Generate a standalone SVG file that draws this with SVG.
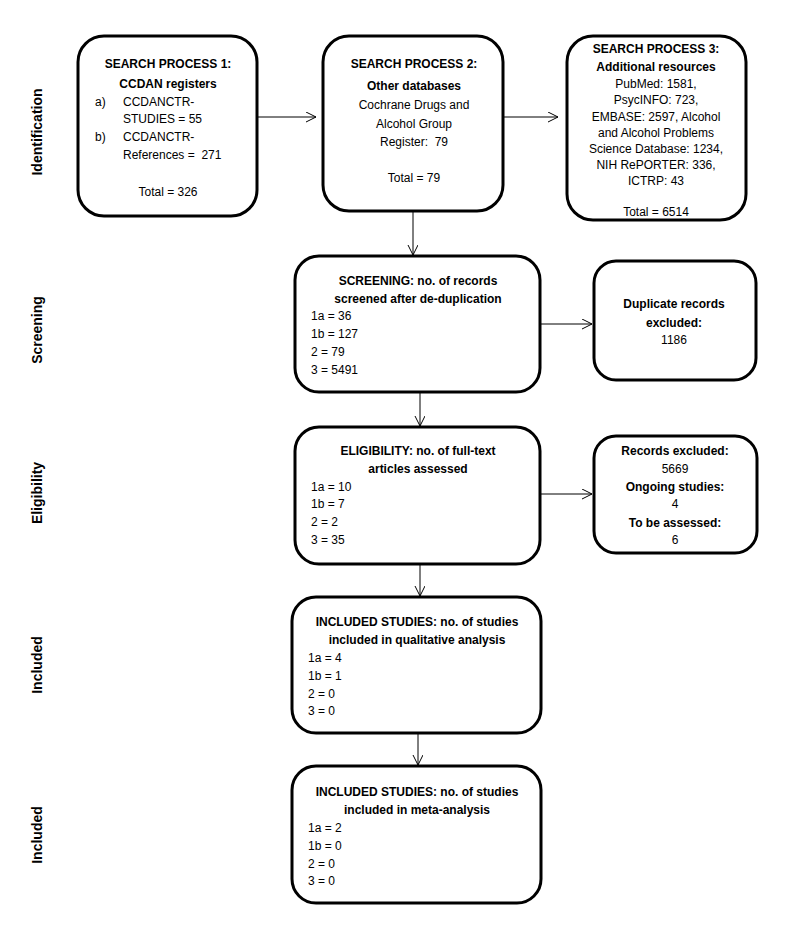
<svg xmlns="http://www.w3.org/2000/svg" width="794" height="930" viewBox="0 0 794 930">
<defs>
<marker id="arr" markerWidth="12" markerHeight="12" refX="10" refY="5" orient="auto" markerUnits="userSpaceOnUse">
<polyline points="0,0 10,5 0,10" fill="none" stroke="#000" stroke-width="1"/>
</marker>
</defs>
<style>
.box{fill:#fff;stroke:#000;stroke-width:3}
text{font-family:"Liberation Sans",Arial,sans-serif;font-size:12px;fill:#000}
.b{font-weight:bold}
.c{text-anchor:middle}
.side{font-weight:bold;font-size:14px;text-anchor:middle}
.con{stroke:#000;stroke-width:1;fill:none;marker-end:url(#arr)}
</style>
<rect width="794" height="930" fill="#fff"/>
<g id="side-labels">
<text class="side" transform="translate(42,132) rotate(-90)">Identification</text>
<text class="side" transform="translate(42,330) rotate(-90)">Screening</text>
<text class="side" transform="translate(42,493) rotate(-90)">Eligibility</text>
<text class="side" transform="translate(42,665) rotate(-90)">Included</text>
<text class="side" transform="translate(42,835) rotate(-90)">Included</text>
</g>
<g id="connectors">
<line class="con" x1="257" y1="117" x2="316" y2="117"/>
<line class="con" x1="503" y1="117" x2="558" y2="117"/>
<line class="con" x1="413" y1="211" x2="413" y2="255"/>
<line class="con" x1="540" y1="324" x2="592" y2="324"/>
<line class="con" x1="420" y1="392" x2="420" y2="426"/>
<line class="con" x1="540" y1="494" x2="592" y2="494"/>
<line class="con" x1="420" y1="564" x2="420" y2="596"/>
<line class="con" x1="418" y1="733" x2="418" y2="765"/>
</g>
<g id="search1">
<rect class="box" x="78" y="36" width="179" height="180" rx="26"/>
<text class="b c" x="168" y="68">SEARCH PROCESS 1:</text>
<text class="b c" x="168" y="88">CCDAN registers</text>
<text x="95" y="106">a)</text>
<text x="123" y="106">CCDANCTR-</text>
<text x="123" y="123">STUDIES = 55</text>
<text x="95" y="141">b)</text>
<text x="123" y="141">CCDANCTR-</text>
<text x="123" y="159">References =&#160; 271</text>
<text class="c" x="168" y="196">Total = 326</text>
</g>
<g id="search2">
<rect class="box" x="323" y="36" width="180" height="175" rx="26"/>
<text class="b c" x="414" y="68">SEARCH PROCESS 2:</text>
<text class="b c" x="414" y="90">Other databases</text>
<text class="c" x="414" y="109">Cochrane Drugs and</text>
<text class="c" x="414" y="128">Alcohol Group</text>
<text class="c" x="414" y="146">Register:&#160; 79</text>
<text class="c" x="414" y="182">Total = 79</text>
</g>
<g id="search3">
<rect class="box" x="567" y="36" width="179" height="184" rx="26"/>
<text class="b c" x="656" y="53">SEARCH PROCESS 3:</text>
<text class="b c" x="656" y="71">Additional resources</text>
<text class="c" x="656" y="88">PubMed: 1581,</text>
<text class="c" x="656" y="104">PsycINFO: 723,</text>
<text class="c" x="656" y="121">EMBASE: 2597, Alcohol</text>
<text class="c" x="656" y="137">and Alcohol Problems</text>
<text class="c" x="656" y="153">Science Database: 1234,</text>
<text class="c" x="656" y="169">NIH RePORTER: 336,</text>
<text class="c" x="656" y="185">ICTRP: 43</text>
<text class="c" x="656" y="216">Total = 6514</text>
</g>
<g id="screening">
<rect class="box" x="295" y="256" width="245" height="136" rx="24"/>
<text class="b c" x="418" y="285">SCREENING: no. of records</text>
<text class="b c" x="418" y="303">screened after de-duplication</text>
<text x="311" y="320">1a = 36</text>
<text x="311" y="338">1b = 127</text>
<text x="311" y="356">2 = 79</text>
<text x="311" y="374">3 = 5491</text>
</g>
<g id="duplicates">
<rect class="box" x="594" y="261" width="162" height="119" rx="22"/>
<text class="b c" x="674" y="308">Duplicate records</text>
<text class="b c" x="674" y="327">excluded:</text>
<text class="c" x="674" y="344">1186</text>
</g>
<g id="eligibility">
<rect class="box" x="295" y="427" width="245" height="137" rx="24"/>
<text class="b c" x="418" y="455">ELIGIBILITY: no. of full-text</text>
<text class="b c" x="418" y="473">articles assessed</text>
<text x="311" y="491">1a = 10</text>
<text x="311" y="508">1b = 7</text>
<text x="311" y="526">2 = 2</text>
<text x="311" y="544">3 = 35</text>
</g>
<g id="excluded">
<rect class="box" x="594" y="436" width="163" height="117" rx="22"/>
<text class="b c" x="675" y="455">Records excluded:</text>
<text class="c" x="675" y="473">5669</text>
<text class="b c" x="675" y="491">Ongoing studies:</text>
<text class="c" x="675" y="508">4</text>
<text class="b c" x="675" y="527">To be assessed:</text>
<text class="c" x="675" y="544">6</text>
</g>
<g id="included1">
<rect class="box" x="292" y="597" width="249" height="136" rx="24"/>
<text class="b c" x="417" y="626">INCLUDED STUDIES: no. of studies</text>
<text class="b c" x="417" y="644">included in qualitative analysis</text>
<text x="308" y="662">1a = 4</text>
<text x="308" y="680">1b = 1</text>
<text x="308" y="698">2 = 0</text>
<text x="308" y="715">3 = 0</text>
</g>
<g id="included2">
<rect class="box" x="292" y="766" width="249" height="137" rx="24"/>
<text class="b c" x="417" y="796">INCLUDED STUDIES: no. of studies</text>
<text class="b c" x="417" y="814">included in meta-analysis</text>
<text x="308" y="832">1a = 2</text>
<text x="308" y="850">1b = 0</text>
<text x="308" y="868">2 = 0</text>
<text x="308" y="885">3 = 0</text>
</g>
</svg>
